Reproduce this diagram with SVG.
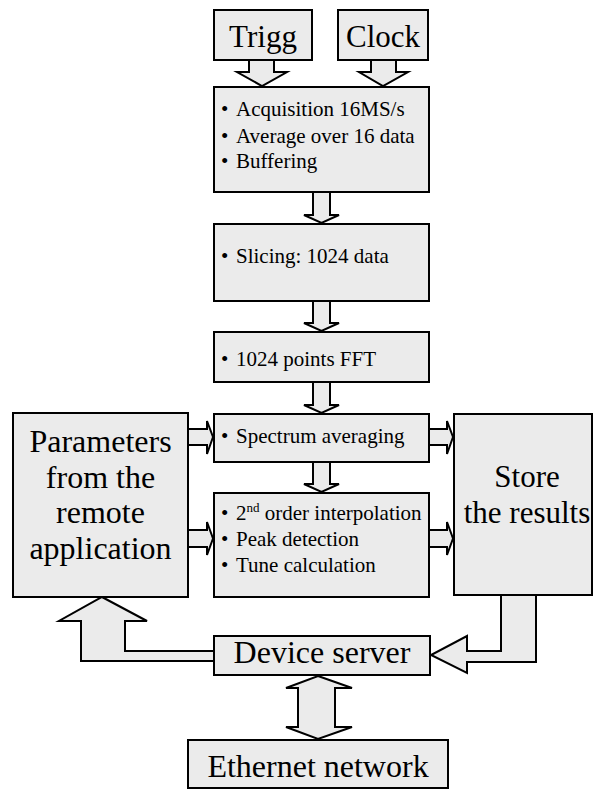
<svg xmlns="http://www.w3.org/2000/svg" width="593" height="790" viewBox="0 0 593 790">
<style>
.box{fill:#ebebeb;stroke:#000;stroke-width:2}
.arr{fill:#ebebeb;stroke:#000;stroke-width:2;stroke-linejoin:miter}
text{font-family:'Liberation Serif','Times New Roman',Times,serif;fill:#000}
.s{font-size:21px}
.b{font-size:32px;text-anchor:middle}
.m{font-size:31px;text-anchor:middle}
</style>
<rect width="593" height="790" fill="#fff"/>
<g id="connectors">
<path class="arr" d="M249,60 V72 H237 L262,86 L287,72 H274 V60 Z"/>
<path class="arr" d="M371,60 V72 H359 L383,86 L408,72 H396 V60 Z"/>
<path class="arr" d="M313,192 V215 H304 L321.5,223 L339,215 H330 V192 Z"/>
<path class="arr" d="M313,301 V323 H304 L321.5,331 L339,323 H330 V301 Z"/>
<path class="arr" d="M313,382 V405 H304 L321.5,413 L339,405 H330 V382 Z"/>
<path class="arr" d="M313,462 V484 H304 L321.5,492 L339,484 H330 V462 Z"/>
<path class="arr" d="M188,429 H207 V421 L213,437 L207,454 V445 H188 Z"/>
<path class="arr" d="M188,530 H207 V522 L213,538.5 L207,555 V547 H188 Z"/>
<path class="arr" d="M429,429 H447 V421 L453,437 L447,454 V445 H429 Z"/>
<path class="arr" d="M429,530 H447 V522 L453,538.5 L447,555 V547 H429 Z"/>
<path class="arr" d="M102,597 L147,621 H125 V651 H216 V661 H81 V621 H59 Z"/>
<path class="arr" d="M501,595 V651 H467 V636 L431,655 L467,673 V662 H536 V595"/>
<path class="arr" d="M318,676 L352,688 H335 V727 H352 L318,739 L286,727 H298 V688 H286 Z"/>
</g>
<g font-family="Liberation Serif, Times New Roman, serif">
<g id="trigg">
<rect class="box" x="214" y="10" width="98" height="50"/>
<text class="m" x="263" y="47">Trigg</text>
</g>
<g id="clock">
<rect class="box" x="338" y="10" width="90" height="50"/>
<text class="m" x="383" y="47">Clock</text>
</g>
<g id="acquisition">
<rect class="box" x="214" y="87" width="215" height="105"/>
<text class="s" x="221" y="116">•<tspan x="236">Acquisition 16MS/s</tspan></text>
<text class="s" x="221" y="143">•<tspan x="236">Average over 16 data</tspan></text>
<text class="s" x="221" y="168">•<tspan x="236">Buffering</tspan></text>
</g>
<g id="slicing">
<rect class="box" x="214" y="224" width="215" height="77"/>
<text class="s" x="221" y="263">•<tspan x="236">Slicing: 1024 data</tspan></text>
</g>
<g id="fft">
<rect class="box" x="214" y="332" width="215" height="50"/>
<text class="s" x="221" y="366">•<tspan x="236">1024 points FFT</tspan></text>
</g>
<g id="spectrum">
<rect class="box" x="214" y="414" width="215" height="48"/>
<text class="s" x="221" y="443">•<tspan x="236">Spectrum averaging</tspan></text>
</g>
<g id="interpolation">
<rect class="box" x="214" y="493" width="215" height="104"/>
<text class="s" x="221" y="520">•<tspan x="236">2</tspan><tspan font-size="13" dy="-8">nd</tspan><tspan dy="8"> order interpolation</tspan></text>
<text class="s" x="221" y="546">•<tspan x="236">Peak detection</tspan></text>
<text class="s" x="221" y="572">•<tspan x="236">Tune calculation</tspan></text>
</g>
<g id="parameters">
<rect class="box" x="13" y="413" width="175" height="184"/>
<text class="b" x="100.5" y="452">Parameters</text>
<text class="b" x="100.5" y="488">from the</text>
<text class="b" x="100.5" y="523">remote</text>
<text class="b" x="100.5" y="559">application</text>
</g>
<g id="store">
<rect class="box" x="454" y="414" width="138" height="181"/>
<text class="b" x="527" y="487" style="font-size:31px">Store</text>
<text class="b" x="527" y="523" style="font-size:31px">the results</text>
</g>
<g id="device-server">
<rect class="box" x="214" y="636" width="216" height="39"/>
<text class="b" x="322" y="663">Device server</text>
</g>
<g id="ethernet">
<rect class="box" x="188" y="740" width="260" height="48"/>
<text class="b" x="318" y="777">Ethernet network</text>
</g>
</g>
</svg>
